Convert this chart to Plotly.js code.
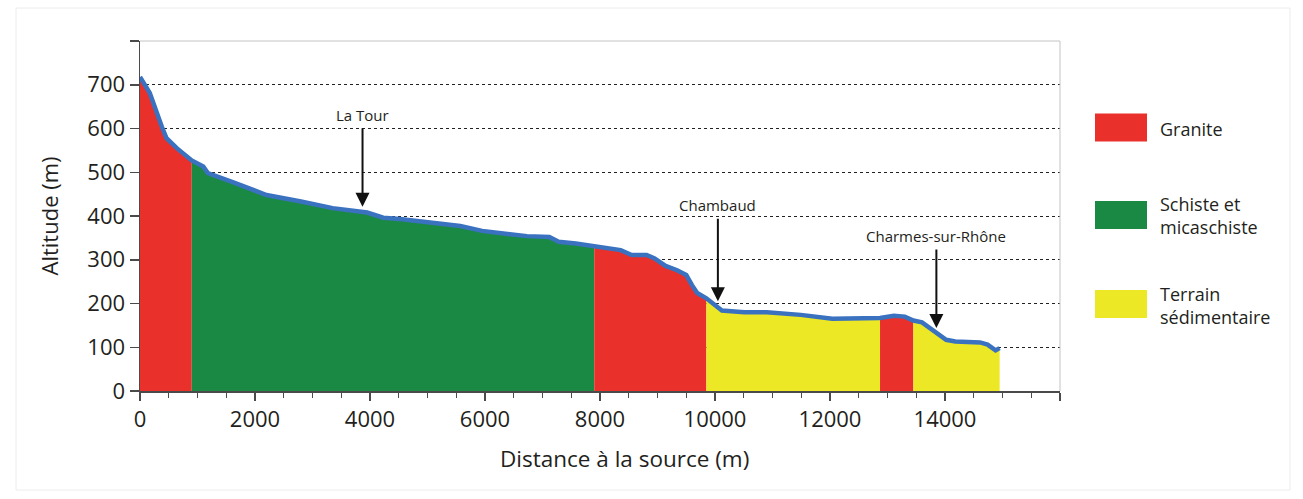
<!DOCTYPE html>
<html>
<head>
<meta charset="utf-8">
<script src="https://cdn.plot.ly/plotly-3.0.1.min.js"></script>
<style>html,body{margin:0;padding:0;background:#fff;}#chart{width:1303px;height:499px;}</style>
</head>
<body>
<div id="chart"></div>
<script>
// Longitudinal profile of the river (distance from source in m, altitude in m)
const distance = [0, 170, 380, 460, 640, 870, 900, 1100, 1180, 1600, 2200, 2800, 3350, 3950, 4230, 4520,
  5270, 5570, 5950, 6340, 6730, 7120, 7280, 7580, 7900, 8160, 8360, 8550, 8810, 8950, 9140, 9340, 9500,
  9600, 9690, 9850, 9990, 10120, 10510, 10900, 11490, 12040, 12870, 13110, 13300, 13450, 13600, 13730,
  13860, 14020, 14180, 14610, 14740, 14880, 14950];
const altitude = [718, 681, 604, 578, 555, 530, 527, 513, 498, 478, 448, 433, 418, 408, 396, 393,
  382, 377, 366, 360, 354, 352, 341, 337, 331, 328, 322, 311, 311, 303, 286, 276, 265,
  242, 224, 212, 197, 184, 180, 180, 174, 165, 167, 172, 170, 161, 157, 144,
  130, 117, 113, 111, 106, 93, 98];

// Geological segments along the profile
const segmentStart = [0, 900, 7900, 9850, 12870, 13450];
const segmentEnd = [900, 7900, 9850, 12870, 13450, 14950];
const segmentRock = [0, 1, 0, 2, 0, 2];

// Rock types (legend)
const rockNames = ['Granite', 'Schiste et<br>micaschiste', 'Terrain<br>sédimentaire'];
const rockColors = ['#E9302A', '#1A8944', '#ECE826'];

// Places marked with arrows
const placeNames = ['La Tour', 'Chambaud', 'Charmes-sur-Rhône'];
const placeDistance = [3870, 10050, 13850];
const placeAltitude = [421, 205, 144];

// Axis ticks
const xTickVals = [0, 2000, 4000, 6000, 8000, 10000, 12000, 14000, 16000];
const xTickText = ['0', '2000', '4000', '6000', '8000', '10000', '12000', '14000', ''];
const yTickVals = [0, 100, 200, 300, 400, 500, 600, 700];
const yTickText = ['0', '100', '200', '300', '400', '500', '600', '700'];

const FONT = 'Open Sans, Liberation Sans, sans-serif';
const TXT = '#231F20';

const traces = [];
segmentStart.forEach((s, k) => {
  const xs = [], ys = [];
  distance.forEach((d, i) => {
    if (d >= s && d <= segmentEnd[k]) { xs.push(d); ys.push(altitude[i]); }
  });
  traces.push({
    type: 'scatter', mode: 'lines', x: xs, y: ys, fill: 'tozeroy',
    fillcolor: rockColors[segmentRock[k]], line: {width: 0, color: rockColors[segmentRock[k]]},
    hoverinfo: 'skip', showlegend: false
  });
});
traces.push({
  type: 'scatter', mode: 'lines', x: distance, y: altitude,
  line: {color: '#3A72C0', width: 4.5, shape: 'linear'}, showlegend: false
});

// pixel helpers for paper coordinates (plot area 140..1060 x 41..391)
const px = v => (v - 140) / 920;
const py = v => (391 - v) / 350;

const shapes = [
  {type: 'line', xref: 'paper', yref: 'paper', x0: 0, x1: 1, y0: 1, y1: 1, line: {color: '#c4c4c4', width: 1}},
  {type: 'line', xref: 'paper', yref: 'paper', x0: 1, x1: 1, y0: 0, y1: 1, line: {color: '#c4c4c4', width: 1}},
  {type: 'rect', xref: 'paper', yref: 'paper', x0: px(16), x1: px(1290), y0: py(490), y1: py(8), line: {color: '#ececec', width: 1}}
];
const legendTop = [113.5, 201, 290];
const legendTextY = [129, 215, 305];
const annotations = [];
rockNames.forEach((name, i) => {
  shapes.push({type: 'rect', xref: 'paper', yref: 'paper', x0: px(1095), x1: px(1147),
    y0: py(legendTop[i] + 28), y1: py(legendTop[i]), fillcolor: rockColors[i], line: {width: 0}});
  annotations.push({xref: 'paper', yref: 'paper', x: px(1158), y: py(legendTextY[i]), xanchor: 'left', yanchor: 'middle',
    text: name, showarrow: false, align: 'left', font: {family: FONT, size: 18, color: TXT}});
});
const placeOffset = [-92, -96, -92];
placeNames.forEach((name, i) => {
  annotations.push({x: placeDistance[i], y: placeAltitude[i], xref: 'x', yref: 'y', text: name,
    showarrow: true, arrowhead: 2, arrowsize: 1.4, arrowwidth: 2, arrowcolor: '#111', standoff: 0,
    ax: 0, ay: placeOffset[i], borderpad: 3, font: {family: FONT, size: 15, color: TXT}});
});
annotations.push({xref: 'paper', yref: 'paper', x: px(624), y: py(458), xanchor: 'center', yanchor: 'middle',
  text: 'Distance à la source (m)', showarrow: false, font: {family: FONT, size: 22.5, color: TXT}});

const layout = {
  width: 1303, height: 499,
  margin: {l: 140, r: 243, t: 41, b: 108, pad: 0},
  paper_bgcolor: '#fff', plot_bgcolor: '#fff',
  showlegend: false,
  font: {family: FONT, color: TXT},
  xaxis: {
    range: [0, 16000], tickmode: 'array', tickvals: xTickVals, ticktext: xTickText,
    showline: true, linecolor: '#4a4a4a', linewidth: 1.5,
    ticks: 'outside', ticklen: 8, tickwidth: 1.5, tickcolor: '#4a4a4a',
    minor: {dtick: 500, tick0: 0, ticks: 'outside', ticklen: 5, tickwidth: 1.2, tickcolor: '#4a4a4a', showgrid: false},
    showgrid: false, zeroline: false, fixedrange: true,
    tickfont: {family: FONT, size: 22, color: TXT}, ticklabelstandoff: 0
  },
  yaxis: {
    range: [0, 800], tickmode: 'array', tickvals: yTickVals, ticktext: yTickText,
    showline: true, linecolor: '#4a4a4a', linewidth: 1.5,
    ticks: 'outside', ticklen: 9, tickwidth: 1.5, tickcolor: '#4a4a4a',
    minor: {tickmode: 'array', tickvals: [800], ticks: 'outside', ticklen: 9, tickwidth: 1.5, tickcolor: '#4a4a4a', showgrid: false},
    showgrid: true, gridcolor: '#222', griddash: 'dot', gridwidth: 1, zeroline: false, fixedrange: true,
    tickfont: {family: FONT, size: 22, color: TXT},
    title: {text: 'Altitude (m)', font: {family: FONT, size: 22, color: TXT}, standoff: 22}
  },
  shapes: shapes,
  annotations: annotations
};

Plotly.newPlot('chart', traces, layout, {displayModeBar: false, staticPlot: true});
</script>
</body>
</html>
